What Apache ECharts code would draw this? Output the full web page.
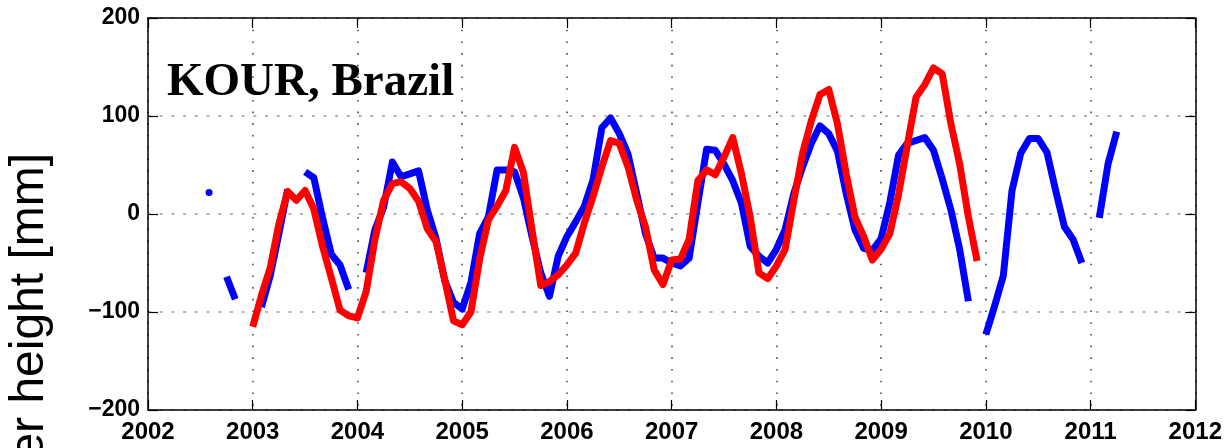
<!DOCTYPE html>
<html>
<head>
<meta charset="utf-8">
<script src="https://cdn.jsdelivr.net/npm/echarts@6/dist/echarts.min.js"></script>
<style>
html,body{margin:0;padding:0;background:#fff;}
#chart{width:1225px;height:448px;}
</style>
</head>
<body>
<div id="chart"></div>
<script>
// ---- data (monthly values, mm) ----
const titleText = 'KOUR, Brazil';
const yAxisTitle = 'Water height [mm]';
const xTicks = [2002, 2003, 2004, 2005, 2006, 2007, 2008, 2009, 2010, 2011, 2012];
const yTicks = [-200, -100, 0, 100, 200];

// blue series starts Aug 2002 ('-' = missing month)
const blueStart = [2002, 8];
const blueValues = [
  22, '-', -64, -87, '-',
  '-', -95, -63, -20, 25, '-', 43, 37, -4, -41, -52, -77,
  '-', -60, -16, 7, 53, 38, 41, 44, 4, -25, -68, -90,
  -97, -70, -20, -3, 45, 45, 43, 17, -23, -60, -84, -43,
  -23, -8, 8, 35, 88, 98, 82, 61, 21, -20, -45, -45,
  -50, -53, -45, 11, 66, 65, 51, 34, 11, -33, -43, -50,
  -36, -16, 21, 48, 72, 90, 82, 64, 21, -16, -35, -37,
  -25, 12, 60, 72, 75, 78, 65, 36, 4, -36, -89, '-',
  -123, -94, -63, 24, 62, 77, 77, 63, 24, -13, -26, -50,
  '-', -4, 51, 84
];

// red series starts Jan 2003
const redStart = [2003, 1];
const redValues = [
  -115, -83, -55, -10, 23, 14, 24, 5, -33, -65, -98, -104,
  -106, -79, -26, 14, 31, 33, 26, 13, -15, -28, -67, -109,
  -113, -100, -46, -6, 8, 24, 68, 43, -16, -73, -69, -62,
  -52, -40, -9, 18, 48, 75, 72, 48, 14, -13, -57, -72,
  -47, -46, -26, 34, 45, 40, 58, 78, 41, -3, -60, -66,
  -53, -36, 14, 62, 95, 122, 127, 92, 41, -3, -23, -47,
  -36, -20, 20, 70, 119, 132, 149, 143, 92, 51, -3, -48
];

function build(start, vals) {
  return vals.map(function (v, i) {
    const t = start[0] + (start[1] - 1 + i) / 12;
    const prev = i > 0 ? vals[i - 1] : '-';
    const next = i < vals.length - 1 ? vals[i + 1] : '-';
    if (v !== '-' && prev === '-' && next === '-') {
      return { value: [t, v], symbol: 'circle', symbolSize: 7 };
    }
    return [t, v];
  });
}

const chart = echarts.init(document.getElementById('chart'), null, { renderer: 'canvas' });
const labelFont = { color: '#000', fontFamily: 'Liberation Sans', fontWeight: 'bold' };
const xMin = xTicks[0], xMax = xTicks[xTicks.length - 1];
const yMin = yTicks[0], yMax = yTicks[yTicks.length - 1];

const option = {
  animation: false,
  backgroundColor: '#fff',
  grid: { left: 148, right: 25, top: 18, bottom: 38 },
  xAxis: [
    {
      type: 'value', min: xMin, max: xMax, interval: 1, position: 'bottom',
      axisLine: { show: true, onZero: false, lineStyle: { color: '#000', width: 1.5 } },
      axisTick: { show: true, inside: true, length: 10, lineStyle: { color: '#000', width: 1.2 } },
      axisLabel: Object.assign({ margin: 10, fontSize: 24, formatter: function (v) { return String(v); } }, labelFont),
      splitLine: { show: true, lineStyle: { color: '#4a4a4a', width: 1.6, type: [1.6, 10.1] } }
    },
    {
      type: 'value', min: xMin, max: xMax, interval: 1, position: 'top',
      axisLine: { show: true, onZero: false, lineStyle: { color: '#000', width: 1.5 } },
      axisTick: { show: true, inside: true, length: 10, lineStyle: { color: '#000', width: 1.2 } },
      axisLabel: { show: false },
      splitLine: { show: false }
    }
  ],
  yAxis: [
    {
      type: 'value', min: yMin, max: yMax, interval: 100, position: 'left',
      axisLine: { show: true, onZero: false, lineStyle: { color: '#000', width: 1.5 } },
      axisTick: { show: true, inside: true, length: 10, lineStyle: { color: '#000', width: 1.2 } },
      axisLabel: Object.assign({ margin: 8, fontSize: 23, formatter: function (v) { return String(v).replace('-', '\u2212'); } }, labelFont),
      splitLine: { show: true, lineStyle: { color: '#b4b4b4', width: 2, type: [3, 8.7] } }
    },
    {
      type: 'value', min: yMin, max: yMax, interval: 100, position: 'right',
      axisLine: { show: true, onZero: false, lineStyle: { color: '#000', width: 1.5 } },
      axisTick: { show: true, inside: true, length: 10, lineStyle: { color: '#000', width: 1.2 } },
      axisLabel: { show: false },
      splitLine: { show: false }
    }
  ],
  graphic: [
    {
      type: 'text', x: 167, y: 82.5, z: 10,
      style: { text: titleText, fontFamily: 'Liberation Serif', fontWeight: 'bold', fontSize: 47, fill: '#000', align: 'left', verticalAlign: 'middle' }
    },
    {
      type: 'text', x: 30, y: 348, rotation: Math.PI / 2, z: 10,
      style: { text: yAxisTitle, fontFamily: 'Liberation Sans', fontSize: 48, fill: '#000', align: 'center', verticalAlign: 'middle' }
    }
  ],
  series: [
    {
      name: 'blue', type: 'line', xAxisIndex: 0, yAxisIndex: 0,
      data: build(blueStart, blueValues),
      symbol: 'none', showSymbol: true, connectNulls: false, smooth: false,
      itemStyle: { color: '#0000ff' },
      lineStyle: { color: '#0000ff', width: 7, join: 'round' },
      z: 3
    },
    {
      name: 'red', type: 'line', xAxisIndex: 0, yAxisIndex: 0,
      data: build(redStart, redValues),
      symbol: 'none', showSymbol: true, connectNulls: false, smooth: false,
      itemStyle: { color: '#ff0000' },
      lineStyle: { color: '#ff0000', width: 7, join: 'round' },
      z: 4
    }
  ]
};
chart.setOption(option);
</script>
</body>
</html>
